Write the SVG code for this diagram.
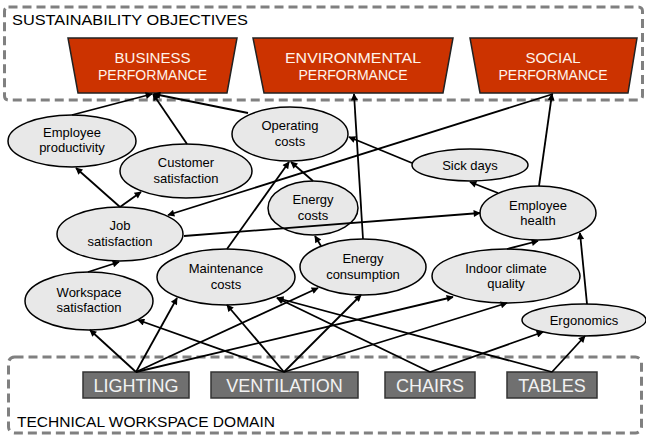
<svg xmlns="http://www.w3.org/2000/svg" width="646" height="435" viewBox="0 0 646 435">
<style>
text{font-family:"Liberation Sans","DejaVu Sans",sans-serif;}
.dash{fill:none;stroke:#808080;stroke-width:3;stroke-dasharray:9 5;}
.lbl{font-size:15px;fill:#000;}
.trap{fill:#cc3300;stroke:#222;stroke-width:1.5;}
.tt{font-size:15px;fill:#fff4ea;text-anchor:middle;}
.ell{fill:#e8e8e8;stroke:#000;stroke-width:1.5;}
.et{font-size:13px;fill:#000;text-anchor:middle;}
.box{fill:#707070;stroke:#333;stroke-width:1.5;}
.bt{font-size:18px;fill:#f2f2f2;text-anchor:middle;}
.c line{stroke:#000;stroke-width:1.8;marker-end:url(#ah);}
</style>
<defs>
<marker id="ah" viewBox="0 0 10 10" refX="9" refY="5" markerWidth="9" markerHeight="7" markerUnits="userSpaceOnUse" orient="auto">
<path d="M0,0 L10,5 L0,10 z" fill="#000"/>
</marker>
</defs>
<rect width="646" height="435" fill="#fff"/>
<g id="sustainability-objectives">
<rect class="dash" x="4.5" y="7" width="638" height="93" rx="4"/>
<text class="lbl" x="12" y="25" textLength="236" lengthAdjust="spacingAndGlyphs">SUSTAINABILITY OBJECTIVES</text>
</g>
<g id="technical-domain">
<rect class="dash" x="8.5" y="357" width="633" height="76" rx="6"/>
<text class="lbl" x="17" y="427" textLength="258" lengthAdjust="spacingAndGlyphs">TECHNICAL WORKSPACE DOMAIN</text>
</g>
<g id="business-performance">
<polygon class="trap" points="68,38 237,38 227,93 78,93"/>
<text class="tt" x="152.5" y="63">BUSINESS</text>
<text class="tt" x="152.5" y="80" textLength="109" lengthAdjust="spacingAndGlyphs">PERFORMANCE</text>
</g>
<g id="environmental-performance">
<polygon class="trap" points="253,38 453,38 443,93 264,93"/>
<text class="tt" x="353" y="63" textLength="136" lengthAdjust="spacingAndGlyphs">ENVIRONMENTAL</text>
<text class="tt" x="353" y="80" textLength="109" lengthAdjust="spacingAndGlyphs">PERFORMANCE</text>
</g>
<g id="social-performance">
<polygon class="trap" points="470,38 637,38 628,93 480,93"/>
<text class="tt" x="553" y="63">SOCIAL</text>
<text class="tt" x="553" y="80" textLength="109" lengthAdjust="spacingAndGlyphs">PERFORMANCE</text>
</g>
<g id="employee-productivity">
<ellipse class="ell" cx="72" cy="141" rx="64" ry="26"/>
<text class="et" x="72" y="137">Employee</text>
<text class="et" x="72" y="152">productivity</text>
</g>
<g id="customer-satisfaction">
<ellipse class="ell" cx="186" cy="171" rx="66" ry="27"/>
<text class="et" x="186" y="167">Customer</text>
<text class="et" x="186" y="183">satisfaction</text>
</g>
<g id="operating-costs">
<ellipse class="ell" cx="290" cy="134" rx="58" ry="27"/>
<text class="et" x="290" y="130">Operating</text>
<text class="et" x="290" y="146">costs</text>
</g>
<g id="sick-days">
<ellipse class="ell" cx="470" cy="165" rx="58" ry="16"/>
<text class="et" x="470" y="170">Sick days</text>
</g>
<g id="energy-costs">
<ellipse class="ell" cx="313" cy="208" rx="45" ry="27"/>
<text class="et" x="313" y="204">Energy</text>
<text class="et" x="313" y="220">costs</text>
</g>
<g id="job-satisfaction">
<ellipse class="ell" cx="120" cy="234" rx="63" ry="27"/>
<text class="et" x="120" y="230">Job</text>
<text class="et" x="120" y="246">satisfaction</text>
</g>
<g id="employee-health">
<ellipse class="ell" cx="538" cy="213" rx="58" ry="27"/>
<text class="et" x="538" y="210">Employee</text>
<text class="et" x="538" y="225">health</text>
</g>
<g id="maintenance-costs">
<ellipse class="ell" cx="226" cy="277" rx="69" ry="28"/>
<text class="et" x="226" y="273">Maintenance</text>
<text class="et" x="226" y="289">costs</text>
</g>
<g id="energy-consumption">
<ellipse class="ell" cx="363" cy="267" rx="63" ry="28"/>
<text class="et" x="363" y="263">Energy</text>
<text class="et" x="363" y="279">consumption</text>
</g>
<g id="indoor-climate-quality">
<ellipse class="ell" cx="506" cy="276" rx="74" ry="27"/>
<text class="et" x="506" y="273">Indoor climate</text>
<text class="et" x="506" y="288">quality</text>
</g>
<g id="workspace-satisfaction">
<ellipse class="ell" cx="89" cy="301" rx="64" ry="29"/>
<text class="et" x="89" y="297">Workspace</text>
<text class="et" x="89" y="312">satisfaction</text>
</g>
<g id="ergonomics">
<ellipse class="ell" cx="584" cy="320" rx="62" ry="16"/>
<text class="et" x="584" y="325">Ergonomics</text>
</g>
<g id="lighting">
<rect class="box" x="83" y="372" width="106" height="26"/>
<text class="bt" x="136" y="392">LIGHTING</text>
</g>
<g id="ventilation">
<rect class="box" x="211" y="372" width="147" height="26"/>
<text class="bt" x="284.5" y="392">VENTILATION</text>
</g>
<g id="chairs">
<rect class="box" x="385" y="372" width="90" height="26"/>
<text class="bt" x="430" y="392">CHAIRS</text>
</g>
<g id="tables">
<rect class="box" x="507" y="372" width="90" height="26"/>
<text class="bt" x="552" y="392">TABLES</text>
</g>
<g id="connectors" class="c">
<line x1="72" y1="115" x2="152" y2="94"/>
<line x1="187" y1="144" x2="153" y2="94"/>
<line x1="248" y1="113" x2="154" y2="94"/>
<line x1="363" y1="239" x2="354" y2="94"/>
<line x1="539" y1="186" x2="552" y2="94"/>
<line x1="553" y1="94" x2="168" y2="215"/>
<line x1="412" y1="163" x2="349" y2="137"/>
<line x1="313" y1="181" x2="291" y2="162"/>
<line x1="227" y1="249" x2="289" y2="162"/>
<line x1="321" y1="246" x2="315" y2="236"/>
<line x1="120" y1="207" x2="76" y2="168"/>
<line x1="120" y1="207" x2="141" y2="192"/>
<line x1="184" y1="236" x2="480" y2="213"/>
<line x1="498" y1="193" x2="470" y2="182"/>
<line x1="507" y1="249" x2="538" y2="241"/>
<line x1="587" y1="304" x2="580" y2="233"/>
<line x1="88" y1="272" x2="119" y2="262"/>
<line x1="136" y1="372" x2="90" y2="330"/>
<line x1="136" y1="372" x2="177" y2="298"/>
<line x1="136" y1="372" x2="318" y2="288"/>
<line x1="136" y1="372" x2="453" y2="297"/>
<line x1="284" y1="372" x2="138" y2="320"/>
<line x1="284" y1="372" x2="227" y2="305"/>
<line x1="284" y1="372" x2="361" y2="295"/>
<line x1="284" y1="372" x2="507" y2="303"/>
<line x1="430" y1="372" x2="277" y2="298"/>
<line x1="430" y1="372" x2="543" y2="332"/>
<line x1="552" y1="372" x2="277" y2="298"/>
<line x1="552" y1="372" x2="585" y2="336"/>
</g>
</svg>
